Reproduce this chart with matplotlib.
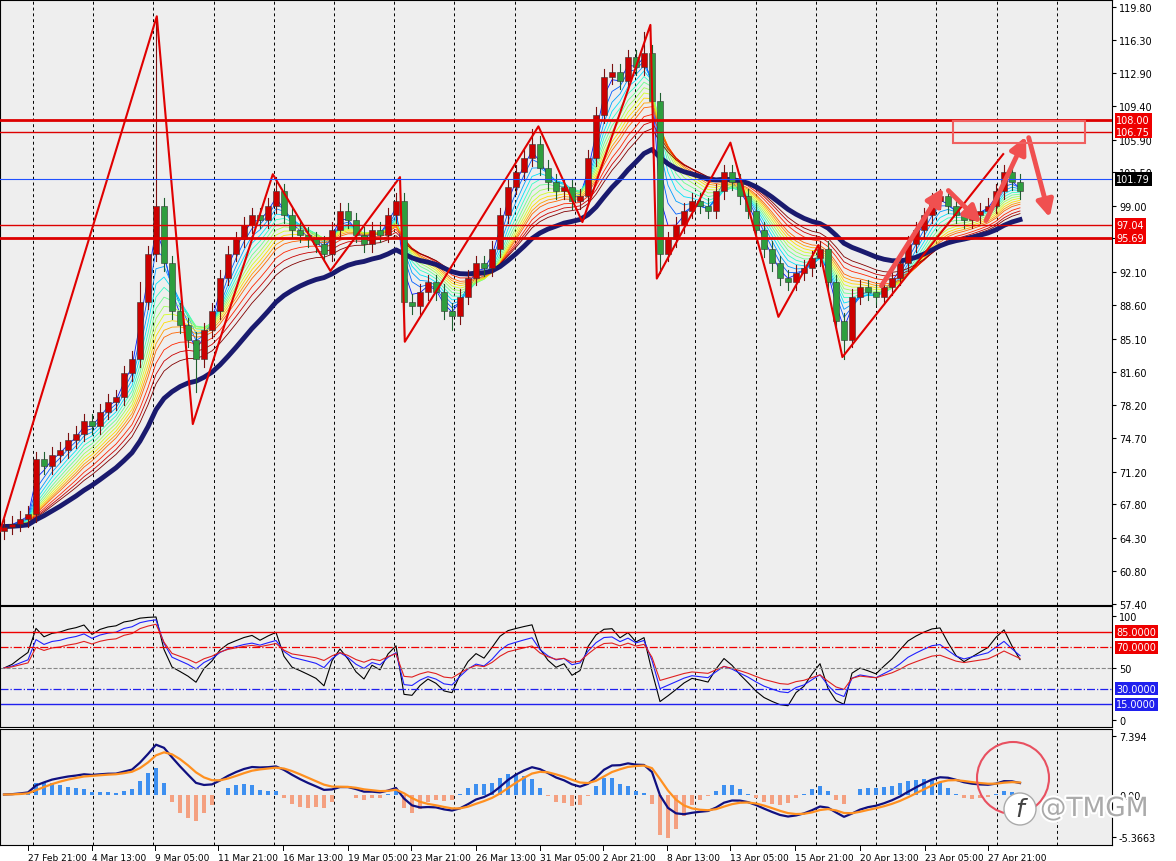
import numpy as np
import matplotlib
matplotlib.use("Agg")
import matplotlib.pyplot as plt
from matplotlib.patches import Rectangle, Circle
import matplotlib.transforms as mtransforms
import matplotlib.patheffects as pe

closes = [65.5,65.8,66.3,66.8,72.5,71.8,73.0,73.5,74.5,75.2,76.5,76.0,77.5,78.5,79.0,81.5,83.0,89.0,94.0,99.0,
          93.0,88.0,86.5,85.0,83.0,86.0,88.0,91.5,94.0,95.5,97.0,98.0,97.5,99.0,100.5,98.0,96.5,96.0,95.5,95.0,
          94.0,96.5,98.5,97.5,96.0,95.0,96.5,96.0,98.0,99.5,89.0,88.5,90.0,91.0,90.0,88.0,87.5,89.5,91.5,93.0,
          92.5,94.5,98.0,101.0,102.5,104.0,105.5,103.0,101.5,100.5,101.0,99.5,100.0,104.0,108.5,112.5,113.0,112.0,114.5,113.5,
          115.0,110.0,94.0,95.5,97.0,98.5,99.5,99.0,98.5,100.5,102.5,101.5,100.0,98.5,96.5,94.5,93.0,91.5,91.0,92.0,
          92.5,93.5,94.5,91.0,87.0,85.0,89.5,90.5,90.0,89.5,90.5,91.5,93.0,95.0,96.5,98.0,99.5,100.0,99.0,98.0,
          97.5,98.0,98.5,99.0,100.5,102.5,101.5,100.5]
first_open = 65.0
high_override = {19: 118.5, 80: 117.2, 17: 91.0, 34: 102.0, 66: 107.0}
low_override = {24: 79.5, 105: 83.0, 50: 85.5, 82: 92.0, 56: 86.0}
wick = 0.8

zz_x = [-0.5, 19.1, 23.6, 33.6, 40.8, 49.5, 50.1, 66.8, 72.3, 80.8, 81.6, 90.8, 96.8, 101.8, 104.8, 124.9]
zz_y = [65.0, 118.8, 76.2, 102.3, 92.2, 102.0, 84.8, 107.3, 97.3, 117.9, 91.4, 105.6, 87.4, 94.9, 83.2, 104.4]
arrows = [((109.5, 90.4), (117.6, 101.1)), ((117.8, 100.8), (122.4, 97.0)),
          ((122.6, 97.2), (127.9, 106.5)), ((128.0, 106.4), (130.8, 97.5))]
levels_red = [108.00, 106.75, 97.04, 95.69]
level_blue = 101.79
price_ticks = [119.80,116.30,112.90,109.40,105.90,102.50,99.00,95.60,92.10,88.60,85.10,81.60,78.20,74.70,71.20,67.80,64.30,60.80,57.40]
xlabels = ["25 Feb 21:00","27 Feb 21:00","4 Mar 13:00","9 Mar 05:00","11 Mar 21:00","16 Mar 13:00","19 Mar 05:00",
           "23 Mar 21:00","26 Mar 13:00","31 Mar 05:00","2 Apr 21:00","8 Apr 13:00","13 Apr 05:00","15 Apr 21:00",
           "20 Apr 13:00","23 Apr 05:00","27 Apr 21:00"]
xlabel_pos = [-7.9, 3.0, 11.0, 18.9, 26.8, 34.9, 43.0, 50.9, 59.0, 67.0, 74.9, 82.9, 90.8, 98.9, 107.0, 115.1, 123.0]
rsi_periods = [5, 9, 14]
ema_periods = [2, 3, 4, 5, 6, 7, 8, 9, 10, 11, 12, 14, 16, 18]

W, H = 1176, 862
fig = plt.figure(figsize=(W/100, H/100), dpi=100)
bg = '#eeeeee'
def axbox(top, bot):
    return [0, 1 - bot/H, 1112/W, (bot-top)/H]
ax = fig.add_axes(axbox(1, 606))
ax2 = fig.add_axes(axbox(607, 728))
ax3 = fig.add_axes(axbox(730, 846))
n = len(closes)
x = np.arange(n)
c = np.array(closes)
o = np.concatenate([[first_open], c[:-1]])
hi = np.maximum(o, c) + wick
lo = np.minimum(o, c) - wick
for k, v in high_override.items(): hi[k] = v
for k, v in low_override.items(): lo[k] = v

for a in (ax, ax2, ax3):
    a.set_facecolor(bg)
    a.set_xlim(-0.5, 138.5)
    a.yaxis.tick_right()
    a.tick_params(axis='y', labelsize=7, length=3, pad=2)
    a.tick_params(axis='x', length=0)
    a.set_xticks([])
    for s in a.spines.values(): s.set_color('black'); s.set_linewidth(0.8)
    for g in np.arange(3.6, 139, 7.53):
        a.axvline(g, color='black', ls=(0, (3, 3)), lw=0.7, zorder=0)

def ema(v, p):
    out = np.empty_like(v); k = 2/(p+1); out[0] = v[0]
    for i in range(1, len(v)): out[i] = out[i-1] + k*(v[i]-out[i-1])
    return out

cmap = plt.get_cmap('jet')
for j, p in enumerate(ema_periods):
    ax.plot(x, ema(c, p), color=cmap(0.15 + 0.85*j/(len(ema_periods)-1)), lw=0.6, zorder=2)
ax.plot(x, ema(c, 25), color='#1a1a6e', lw=3.5, zorder=3)

for i in range(n):
    up = c[i] >= o[i]
    col = '#cc0000' if up else '#2e9e3e'
    ax.plot([i, i], [lo[i], hi[i]], color='#7a1010' if up else '#1e5e2e', lw=0.8, zorder=4)
    b = min(o[i], c[i]); h = max(abs(c[i]-o[i]), 0.15)
    ax.add_patch(Rectangle((i-0.35, b), 0.7, h, facecolor=col, edgecolor='#333333', lw=0.4, zorder=5))

ax.plot(zz_x, zz_y, color='#e00000', lw=1.5, zorder=6)
for (s, e) in arrows:
    ax.annotate('', xy=e, xytext=s, arrowprops=dict(arrowstyle='-|>,head_length=1.0,head_width=0.5', color='#f05050', lw=3.5), zorder=7)
ax.add_patch(Rectangle((118.6, 105.6), 16.5, 2.3, fill=False, edgecolor='#f06060', lw=1.5, zorder=7))
for lv in levels_red:
    ax.axhline(lv, color='#dd0000', lw=2 if lv in (108.00, 95.69) else 1, zorder=6)
ax.axhline(level_blue, color='#2050ff', lw=0.8, zorder=6)
ax.set_ylim(57.4 - 0.1, 120.5)
ax.set_yticks(price_ticks)
ax.set_yticklabels(['%.2f' % t for t in price_ticks])
tr = mtransforms.blended_transform_factory(ax.transAxes, ax.transData)
for lv in levels_red:
    ax.text(1.004, lv, '%.2f' % lv, transform=tr, fontsize=7, color='white', va='center', ha='left',
            bbox=dict(facecolor='#ee0000', edgecolor='none', pad=1.2), zorder=10)
ax.text(1.004, level_blue, '%.2f' % level_blue, transform=tr, fontsize=7, color='white', va='center', ha='left',
        bbox=dict(facecolor='black', edgecolor='none', pad=1.2), zorder=10)

def rsi(v, p):
    d = np.diff(v, prepend=v[0]); g = np.clip(d, 0, None); l = np.clip(-d, 0, None)
    ag = np.empty_like(v); al = np.empty_like(v); ag[0] = 0.5; al[0] = 0.5
    for i in range(1, len(v)):
        ag[i] = (ag[i-1]*(p-1)+g[i])/p; al[i] = (al[i-1]*(p-1)+l[i])/p
    return 100*ag/(ag+al)
for p, col in zip(rsi_periods, ['black', '#2020ff', '#e02020']):
    ax2.plot(x, rsi(c, p), color=col, lw=0.8)
ax2.axhline(85, color='#ee0000', lw=1)
ax2.axhline(70, color='#ee0000', lw=0.9, ls='-.')
ax2.axhline(50, color='#888888', lw=0.8, ls='--')
ax2.axhline(30, color='#2020ee', lw=0.9, ls='-.')
ax2.axhline(15, color='#2020ee', lw=1)
ax2.set_ylim(-6.7, 109.6)
ax2.set_yticks([100, 50, 0])
tr2 = mtransforms.blended_transform_factory(ax2.transAxes, ax2.transData)
for lv, col in [(85, '#ee0000'), (70, '#ee0000'), (30, '#2020ee'), (15, '#2020ee')]:
    ax2.text(1.004, lv, '%.4f' % lv, transform=tr2, fontsize=7, color='white', va='center', ha='left',
             bbox=dict(facecolor=col, edgecolor='none', pad=1.0), zorder=10)

macd = ema(c, 6) - ema(c, 13)
sig = ema(macd, 4)
hist = (macd - sig) * 2.5
ax3.bar(x, np.clip(hist, 0, None), width=0.55, color='#3d8ff0')
ax3.bar(x, np.clip(hist, None, 0), width=0.55, color='#f4a080')
ax3.plot(x, macd, color='#101080', lw=1.6)
ax3.plot(x, sig, color='#ff9020', lw=1.6)
ax3.set_ylim(-6.38, 8.28)
ax3.set_yticks([7.394, 0.0, -5.3663])
ax3.set_yticklabels(['7.394', '0.00', '-5.3663'])

for lab, p in zip(xlabels, xlabel_pos):
    ax3.annotate(lab, xy=(p, 0), xycoords=('data', 'axes fraction'), xytext=(0, -9), textcoords='offset points',
                 fontsize=6.5, ha='left', va='center', annotation_clip=False)
    ax3.plot([p, p], [0, -0.04], transform=mtransforms.blended_transform_factory(ax3.transData, ax3.transAxes),
             color='black', lw=0.7, clip_on=False)

fig.patches.append(Circle((1013, H-779), 36, transform=None, fill=False, edgecolor='#e85060', lw=1.5))
fig.text(1040/W, 1-810/H, '@TMGM', fontsize=19, color='#aaaaaa', ha='left', va='center',
         path_effects=[pe.withStroke(linewidth=3, foreground='white')])
fig.patches.append(Circle((1020, H-810), 16, transform=None, facecolor='white', edgecolor='#aaaaaa', lw=1))
fig.text(1020/W, 1-810/H, 'f', fontsize=18, color='#444444', ha='center', va='center', style='italic')
fig.savefig('out.png', dpi=100, facecolor='white')
